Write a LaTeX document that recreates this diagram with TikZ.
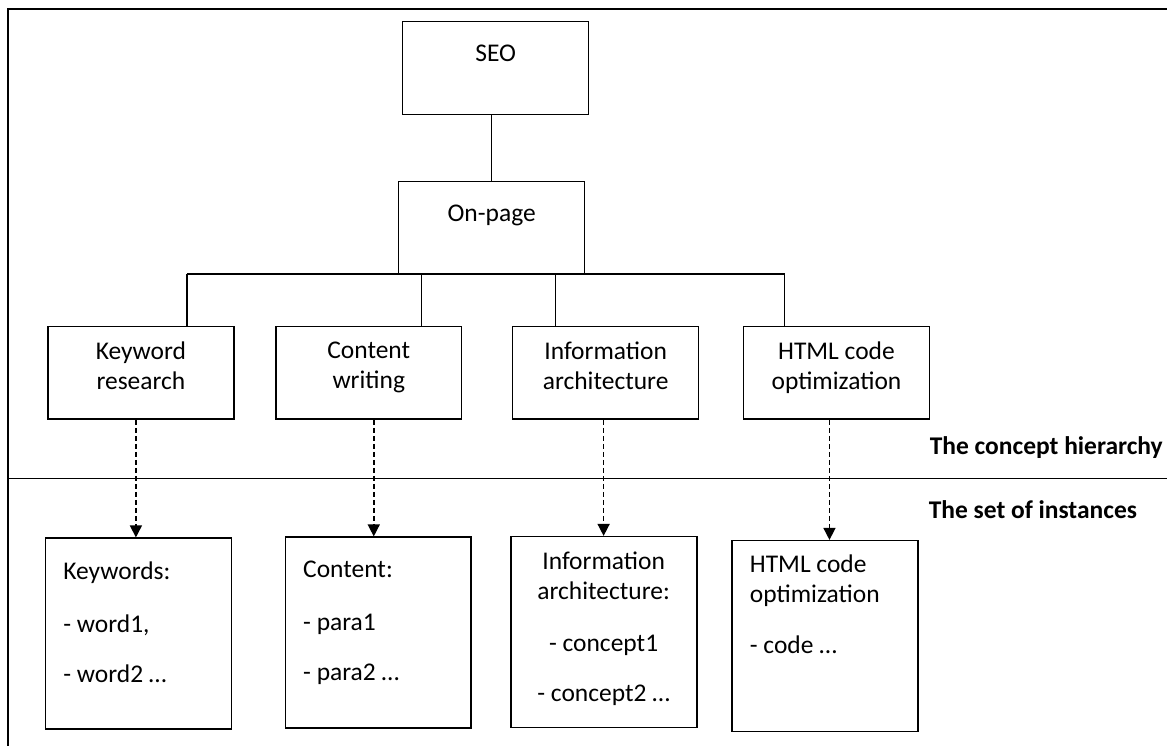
\documentclass[tikz,border=0pt]{standalone}
\usepackage{fontspec}
\setmainfont{Carlito}
\usetikzlibrary{arrows.meta}

\begin{document}
\begin{tikzpicture}[x=0.5pt, y=-0.5pt,
    every node/.style={font=\fontsize{12.75}{15}\selectfont},
    box/.style={draw, line width=0.75pt, minimum width=93pt, minimum height=46.5pt, inner sep=0pt},
    instbox/.style={box, minimum height=95.5pt},
    boxtext/.style={inner sep=0pt, align=center, anchor=north},
    listtext/.style={inner sep=0pt, align=left, anchor=north west},
    heading/.style={font=\fontsize{12.75}{15}\selectfont\bfseries, inner sep=0pt, anchor=base west},
    link/.style={line width=0.75pt},
    instarrow/.style={line width=0.75pt, dash pattern=on 2.5pt off 1.5pt, -{Triangle[length=6pt, width=6pt]}}]
  \fill[white] (0,0) rectangle (1168,746);
  % frame and separator
  \draw[link] (8,746) -- (8,9) -- (1168,9);
  \draw[link] (8,479) -- (1168,479);
  % concept hierarchy
  \node[box, label={[boxtext, yshift=-12pt]north:SEO}] (seo) at (496,68) {};
  \node[box, label={[boxtext, yshift=-12pt]north:On-page}] (onpage) at (492,228) {};
  \node[box, label={[boxtext, yshift=-8pt]north:{Keyword\\research}}] (kw) at (141,373) {};
  \node[box, label={[boxtext, yshift=-8pt]north:{Content\\writing}}] (cont) at (369,373) {};
  \node[box, label={[boxtext, yshift=-8pt]north:{Information\\architecture}}] (info) at (606,373) {};
  \node[box, label={[boxtext, yshift=-8pt]north:{HTML code\\optimization}}] (html) at (837,373) {};
  \draw[link] (onpage.north) -- (onpage.north |- seo.south);
  % bus below on-page
  \coordinate (b1) at (187,274);
  \coordinate (b2) at (422,274);
  \coordinate (b3) at (556,274);
  \coordinate (b4) at (785,274);
  \draw[link] (b1) -- (b4);
  \draw[link] (b1) -- (b1 |- kw.north);
  \draw[link] (b2) -- (b2 |- cont.north);
  \draw[link] (b3) -- (b3 |- info.north);
  \draw[link] (b4) -- (b4 |- html.north);
  \node[heading] (hier) at (930,455) {The concept hierarchy};
  \node[heading] (insts) at (929,519) {The set of instances};
  % set of instances
  \node[instbox] (kwinst) at (138.5,634) {};
  \node[instbox] (continst) at (378.5,633) {};
  \node[instbox] (infoinst) at (604.5,632.5) {};
  \node[instbox] (htmlinst) at (825.5,636.5) {};
  \node[listtext] (kwlist) at (63,562) {Keywords:\\[11.5pt]- word1,\\[10pt]- word2 …};
  \node[listtext] (contlist) at (303,561) {Content:\\[11.5pt]- para1\\[10pt]- para2 …};
  \node[listtext, align=center, anchor=north] (infolist) at (604,552) {Information\\architecture:\\[11pt]- concept1\\[10pt]- concept2 …};
  \node[listtext] (htmllist) at (750,555) {HTML code\\optimization\\[10.5pt]- code …};
  % instance arrows
  \draw[instarrow] ([xshift=-2.5pt]kw.south) -- ([xshift=-2.5pt]kw.south |- kwinst.north);
  \draw[instarrow] ([xshift=2.5pt]cont.south) -- ([xshift=2.5pt]cont.south |- continst.north);
  \draw[instarrow] ([xshift=-1pt]info.south) -- ([xshift=-1pt]info.south |- infoinst.north);
  \draw[instarrow] ([xshift=-3.5pt]html.south) -- ([xshift=-3.5pt]html.south |- htmlinst.north);
\end{tikzpicture}
\end{document}
